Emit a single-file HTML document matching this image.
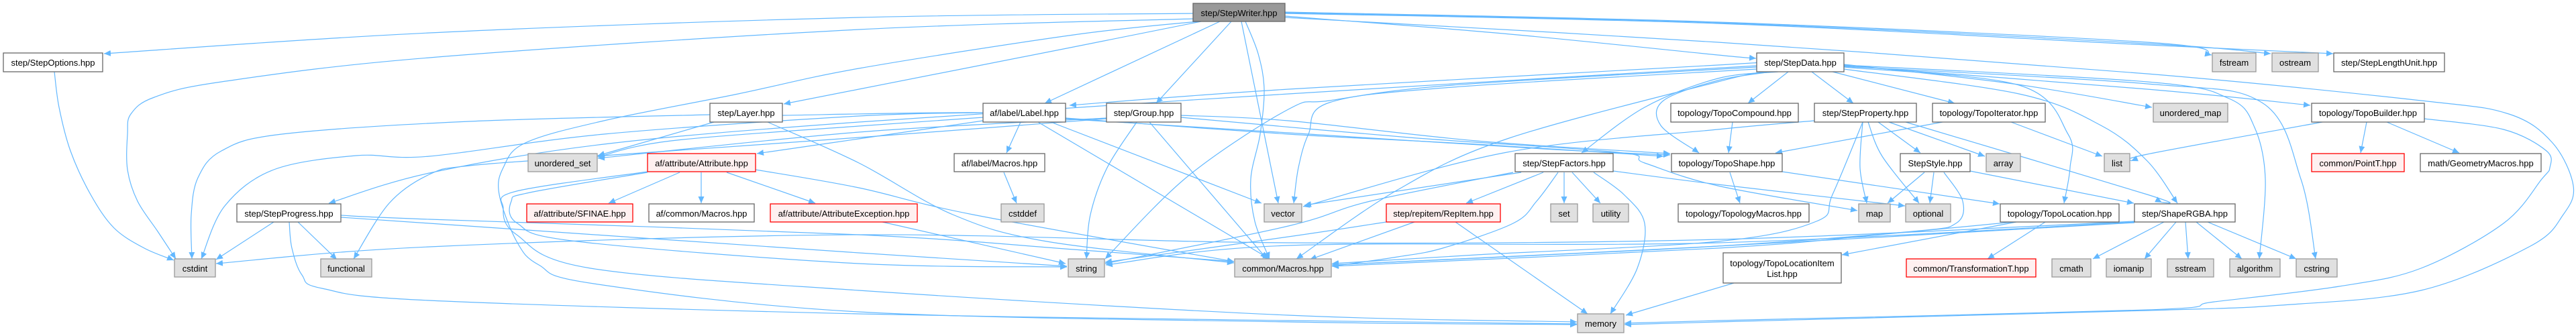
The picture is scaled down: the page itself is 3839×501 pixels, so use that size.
<!DOCTYPE html>
<html>
<head>
<meta charset="utf-8">
<style>
html,body{margin:0;padding:0;background:#fff;}
svg{display:block;}
text{font-family:"Liberation Sans",Arial,sans-serif;font-size:13px;fill:#000;text-anchor:middle;}
.e path{fill:none;stroke:#63b8ff;stroke-width:1.2;stroke-linejoin:round;}
.w{fill:#fff;stroke:#666;stroke-width:1.3;}
.g{fill:#e0e0e0;stroke:#999;stroke-width:1.3;}
.r{fill:#fff0f0;stroke:#ff0000;stroke-width:1.3;}
.d{fill:#999;stroke:#666;stroke-width:1.3;}
</style>
</head>
<body>
<svg width="3839" height="501" viewBox="0 0 3839 501" xmlns="http://www.w3.org/2000/svg">
<defs>
<marker id="a" markerWidth="11" markerHeight="9" refX="10" refY="4.5" orient="auto" markerUnits="userSpaceOnUse"><path d="M0,0 L10,4.5 L0,9 z" fill="#63b8ff"/></marker>
</defs>
<g class="e" id="edges">
<!-- StepWriter -->
<path marker-end="url(#a)" d="M1778,20 L1280,26 L640,49 L155,80"/>
<path marker-end="url(#a)" d="M1778,28 L1280,44 L640,86 L330,122 L230,145 L195,170 L190,200 L190,253 L205,300 L235,345 L262,386"/>
<path marker-end="url(#a)" d="M1790,32 L1600,70 L1280,133 L1168,155"/>
<path marker-end="url(#a)" d="M1785,32 L1600,52 L1280,102 L1100,140 L900,180 L783,213 L750,250 L744,290 L770,360 L803,395 L885,423 L1280,465 L1920,480 L2350,484"/>
<path marker-end="url(#a)" d="M1818,32 L1557,154"/>
<path marker-end="url(#a)" d="M1835,32 L1723,154"/>
<path marker-end="url(#a)" d="M1850,32 L1905,303"/>
<path marker-end="url(#a)" d="M1856,32 L1875,80 L1884,133 L1878,200 L1864,267 L1870,330 L1892,386"/>
<path marker-end="url(#a)" d="M1915,24 L2240,50 L2560,82 L2617,87"/>
<path marker-end="url(#a)" d="M1915,18 L2560,33 L3200,63 L3296,82"/>
<path marker-end="url(#a)" d="M1915,19 L2560,34 L3200,65 L3384,80"/>
<path marker-end="url(#a)" d="M1915,20 L2560,35 L3200,67 L3477,80"/>
<path marker-end="url(#a)" d="M1915,26 L2560,63 L3200,110 L3608,150 L3739,170 L3804,213 L3835,277 L3820,320 L3771,367 L3608,433 L3400,455 L3200,463 L2560,480 L2421,484"/>
<!-- StepOptions -->
<path marker-end="url(#a)" d="M81,107 L88,160 L105,225 L135,290 L170,340 L215,370 L259,388"/>
<!-- Layer -->
<path marker-end="url(#a)" d="M1058,171 L700,181 L420,200 L330,225 L295,265 L285,320 L286,386"/>
<path marker-end="url(#a)" d="M1064,182 L891,232"/>
<path marker-end="url(#a)" d="M1144,182 L1280,243 L1420,320 L1560,360 L1839,392"/>
<path marker-end="url(#a)" d="M1166,172 L1465,168 L1600,178 L1920,198 L2300,222 L2489,231"/>
<!-- Label -->
<path marker-end="url(#a)" d="M1521,182 L1500,228"/>
<path marker-end="url(#a)" d="M1566,182 L1880,303"/>
<path marker-end="url(#a)" d="M1547,182 L1892,386"/>
<path marker-end="url(#a)" d="M1465,180 L1280,207 L1128,229"/>
<path marker-end="url(#a)" d="M1465,175 L1280,188 L1000,210 L891,234"/>
<path marker-end="url(#a)" d="M1465,168 L1280,173 L900,200 L640,233 L531,232 L408,253 L335,307 L300,386"/>
<path marker-end="url(#a)" d="M1588,176 L1920,200 L2200,215 L2479,233"/>
<!-- Group -->
<path marker-end="url(#a)" d="M1694,182 L1650,250 L1625,320 L1619,386"/>
<path marker-end="url(#a)" d="M1713,182 L1888,386"/>
<path marker-end="url(#a)" d="M1760,172 L1920,180 L2200,210 L2489,229"/>
<path marker-end="url(#a)" d="M1649,177 L1280,205 L900,232 L700,247 L640,260 L580,303 L527,386"/>
<path marker-end="url(#a)" d="M1649,176 L1280,197 L891,236"/>
<path marker-end="url(#a)" d="M1760,175 L2100,205 L2410,227 L2451,243 L2560,277 L2768,314"/>
<!-- StepData -->
<path marker-end="url(#a)" d="M2618,93 L2560,97 L1920,133 L1594,157"/>
<path marker-end="url(#a)" d="M2618,100 L2165,127 L1981,150 L1920,163 L1770,263 L1647,386"/>
<path marker-end="url(#a)" d="M2618,103 L2165,130 L1981,153 L1950,200 L1935,250 L1928,303"/>
<path marker-end="url(#a)" d="M2650,107 L2560,117 L2451,160 L2357,228"/>
<path marker-end="url(#a)" d="M2640,107 L2560,120 L2479,150 L2475,187 L2532,228"/>
<path marker-end="url(#a)" d="M2630,107 L2560,122 L2246,207 L2083,283 L1932,386"/>
<path marker-end="url(#a)" d="M2665,107 L2605,154"/>
<path marker-end="url(#a)" d="M2700,107 L2762,154"/>
<path marker-end="url(#a)" d="M2731,107 L2913,154"/>
<path marker-end="url(#a)" d="M2748,100 L3009,127 L3082,200 L3085,250 L3076,303"/>
<path marker-end="url(#a)" d="M2748,103 L3009,140 L3131,187 L3200,240 L3245,303"/>
<path marker-end="url(#a)" d="M2748,96 L3000,125 L3207,160"/>
<path marker-end="url(#a)" d="M2748,98 L3200,133 L3443,157"/>
<path marker-end="url(#a)" d="M2748,97 L3200,122 L3322,147 L3360,190 L3376,267 L3367,386"/>
<path marker-end="url(#a)" d="M2748,99 L3200,125 L3371,153 L3429,267 L3451,386"/>
<path marker-end="url(#a)" d="M2618,98 L1920,140 L1280,182 L900,215 L640,258 L490,303"/>
<!-- StepProperty -->
<path marker-end="url(#a)" d="M2799,182 L2862,228"/>
<path marker-end="url(#a)" d="M2815,182 L2958,233"/>
<path marker-end="url(#a)" d="M2776,182 L2772,250 L2782,303"/>
<path marker-end="url(#a)" d="M2784,182 L2805,233 L2860,303"/>
<path marker-end="url(#a)" d="M2840,182 L3200,290 L3222,302"/>
<path marker-end="url(#a)" d="M2776,182 L2731,290 L2707,330 L2560,360 L2200,380 L1985,393"/>
<path marker-end="url(#a)" d="M2704,180 L2560,193 L2246,227 L1942,308"/>
<!-- TopoCompound / TopoIterator / TopoBuilder -->
<path marker-end="url(#a)" d="M2582,182 L2576,228"/>
<path marker-end="url(#a)" d="M2997,182 L3133,233"/>
<path marker-end="url(#a)" d="M2895,182 L2770,205 L2646,228"/>
<path marker-end="url(#a)" d="M3461,182 L3200,230 L3176,240"/>
<path marker-end="url(#a)" d="M3527,182 L3518,228"/>
<path marker-end="url(#a)" d="M3557,182 L3665,228"/>
<path marker-end="url(#a)" d="M3613,177 L3731,193 L3795,225 L3800,250 L3788,267 L3731,333 L3608,400 L3486,427 L3300,450 L3200,462 L2560,478 L2421,482"/>
<!-- StepFactors -->
<path marker-end="url(#a)" d="M2267,257 L1944,306"/>
<path marker-end="url(#a)" d="M2255,257 L2042,300 L1920,337 L1647,393"/>
<path marker-end="url(#a)" d="M2300,257 L2185,303"/>
<path marker-end="url(#a)" d="M2331,257 L2331,303"/>
<path marker-end="url(#a)" d="M2343,257 L2385,303"/>
<path marker-end="url(#a)" d="M2375,257 L2420,290 L2451,333 L2440,400 L2400,468"/>
<path marker-end="url(#a)" d="M2322,257 L2290,300 L2255,333 L2150,370 L2083,383 L1985,397"/>
<path marker-end="url(#a)" d="M2404,255 L2560,275 L2839,307"/>
<!-- StepStyle -->
<path marker-end="url(#a)" d="M2868,257 L2813,303"/>
<path marker-end="url(#a)" d="M2882,257 L2876,303"/>
<path marker-end="url(#a)" d="M2897,257 L2925,300 L2915,333 L2850,345 L2560,367 L2200,385 L1985,395"/>
<path marker-end="url(#a)" d="M2936,255 L3180,303"/>
<!-- TopoShape -->
<path marker-end="url(#a)" d="M2578,257 L2593,303"/>
<path marker-end="url(#a)" d="M2656,256 L2980,304"/>
<!-- Attribute -->
<path marker-end="url(#a)" d="M1013,257 L907,303"/>
<path marker-end="url(#a)" d="M1045,257 L1045,303"/>
<path marker-end="url(#a)" d="M1083,257 L1215,303"/>
<path marker-end="url(#a)" d="M965,257 L790,287 L762,300 L771,333 L860,360 L1280,393 L1590,398"/>
<path marker-end="url(#a)" d="M965,256 L770,285 L750,310 L770,350 L880,400 L1280,433 L1920,470 L2350,480"/>
<path marker-end="url(#a)" d="M1126,253 L1280,280 L1450,320 L1839,390"/>
<path marker-end="url(#a)" d="M1315,331 L1588,393"/>
<path marker-end="url(#a)" d="M1496,257 L1515,303"/>
<!-- StepProgress -->
<path marker-end="url(#a)" d="M408,331 L322,387"/>
<path marker-end="url(#a)" d="M444,331 L502,387"/>
<path marker-end="url(#a)" d="M508,324 L640,333 L1280,377 L1590,397"/>
<path marker-end="url(#a)" d="M508,321 L640,327 L1280,350 L1600,372 L1839,390"/>
<path marker-end="url(#a)" d="M431,331 L435,370 L450,410 L480,430 L640,448 L1280,468 L1920,478 L2350,483"/>
<!-- RepItem -->
<path marker-end="url(#a)" d="M2108,331 L1952,387"/>
<path marker-end="url(#a)" d="M2169,331 L2366,468"/>
<path marker-end="url(#a)" d="M2066,331 L1920,353 L1647,391"/>
<!-- TopoLocation -->
<path marker-end="url(#a)" d="M3005,331 L2745,380"/>
<path marker-end="url(#a)" d="M3048,331 L2962,386"/>
<path marker-end="url(#a)" d="M3000,331 L2800,350 L2560,370 L1985,397"/>
<!-- ShapeRGBA -->
<path marker-end="url(#a)" d="M3181,330 L2560,357 L1920,362 L1280,350 L640,368 L322,393"/>
<path marker-end="url(#a)" d="M3225,331 L3119,386"/>
<path marker-end="url(#a)" d="M3243,331 L3196,386"/>
<path marker-end="url(#a)" d="M3257,331 L3261,386"/>
<path marker-end="url(#a)" d="M3273,331 L3341,386"/>
<path marker-end="url(#a)" d="M3290,331 L3422,386"/>
<path marker-end="url(#a)" d="M3181,331 L2560,362 L1920,366 L1648,395"/>
<path marker-end="url(#a)" d="M3181,332 L2560,367 L1985,395"/>
<!-- TopoLocationItemList -->
<path marker-end="url(#a)" d="M2584,422 L2423,470"/>
</g>

<!-- Nodes -->
<g>
<rect class="d" x="1778" y="5" width="137" height="27"/><text x="1846.5" y="24">step/StepWriter.hpp</text>
<rect class="w" x="5" y="79" width="148" height="28"/><text x="79" y="98">step/StepOptions.hpp</text>
<rect class="w" x="2618" y="79" width="130" height="28"/><text x="2683" y="98">step/StepData.hpp</text>
<rect class="g" x="3297" y="79" width="65" height="28"/><text x="3329.5" y="98">fstream</text>
<rect class="g" x="3386" y="79" width="69" height="28"/><text x="3420.5" y="98">ostream</text>
<rect class="w" x="3478" y="79" width="165" height="28"/><text x="3560.5" y="98">step/StepLengthUnit.hpp</text>

<rect class="w" x="1058" y="154" width="108" height="28"/><text x="1112" y="173">step/Layer.hpp</text>
<rect class="w" x="1465" y="154" width="123" height="28"/><text x="1526.5" y="173">af/label/Label.hpp</text>
<rect class="w" x="1649" y="154" width="111" height="28"/><text x="1704.5" y="173">step/Group.hpp</text>
<rect class="w" x="2490" y="154" width="190" height="28"/><text x="2585" y="173">topology/TopoCompound.hpp</text>
<rect class="w" x="2704" y="154" width="152" height="28"/><text x="2780" y="173">step/StepProperty.hpp</text>
<rect class="w" x="2880" y="154" width="168" height="28"/><text x="2964" y="173">topology/TopoIterator.hpp</text>
<rect class="g" x="3209" y="154" width="111" height="28"/><text x="3264.5" y="173">unordered_map</text>
<rect class="w" x="3445" y="154" width="168" height="28"/><text x="3529" y="173">topology/TopoBuilder.hpp</text>

<rect class="g" x="787" y="229" width="103" height="27"/><text x="838.5" y="248">unordered_set</text>
<rect class="r" x="965" y="229" width="161" height="27"/><text x="1045.5" y="248">af/attribute/Attribute.hpp</text>
<rect class="w" x="1422" y="229" width="135" height="27"/><text x="1489.5" y="248">af/label/Macros.hpp</text>
<rect class="w" x="2258" y="229" width="146" height="27"/><text x="2331" y="248">step/StepFactors.hpp</text>
<rect class="w" x="2491" y="229" width="165" height="27"/><text x="2573.5" y="248">topology/TopoShape.hpp</text>
<rect class="w" x="2832" y="229" width="104" height="27"/><text x="2884" y="248">StepStyle.hpp</text>
<rect class="g" x="2960" y="229" width="51" height="27"/><text x="2985.5" y="248">array</text>
<rect class="g" x="3136" y="229" width="38" height="27"/><text x="3155" y="248">list</text>
<rect class="r" x="3445" y="229" width="138" height="27"/><text x="3514" y="248">common/PointT.hpp</text>
<rect class="w" x="3607" y="229" width="180" height="27"/><text x="3697" y="248">math/GeometryMacros.hpp</text>

<rect class="w" x="353" y="304" width="155" height="27"/><text x="430.5" y="323">step/StepProgress.hpp</text>
<rect class="r" x="785" y="304" width="158" height="27"/><text x="864" y="323">af/attribute/SFINAE.hpp</text>
<rect class="w" x="967" y="304" width="157" height="27"/><text x="1045.5" y="323">af/common/Macros.hpp</text>
<rect class="r" x="1148" y="304" width="219" height="27"/><text x="1257.5" y="323">af/attribute/AttributeException.hpp</text>
<rect class="g" x="1492" y="304" width="64" height="27"/><text x="1524" y="323">cstddef</text>
<rect class="g" x="1884" y="304" width="56" height="27"/><text x="1912" y="323">vector</text>
<rect class="r" x="2066" y="304" width="170" height="27"/><text x="2151" y="323">step/repitem/RepItem.hpp</text>
<rect class="g" x="2311" y="304" width="40" height="27"/><text x="2331" y="323">set</text>
<rect class="g" x="2374" y="304" width="53" height="27"/><text x="2400.5" y="323">utility</text>
<rect class="w" x="2501" y="304" width="195" height="27"/><text x="2598.5" y="323">topology/TopologyMacros.hpp</text>
<rect class="g" x="2770" y="304" width="47" height="27"/><text x="2793.5" y="323">map</text>
<rect class="g" x="2840" y="304" width="67" height="27"/><text x="2873.5" y="323">optional</text>
<rect class="w" x="2981" y="304" width="177" height="27"/><text x="3069.5" y="323">topology/TopoLocation.hpp</text>
<rect class="w" x="3181" y="304" width="150" height="27"/><text x="3256" y="323">step/ShapeRGBA.hpp</text>

<rect class="g" x="260" y="386" width="61" height="27"/><text x="290.5" y="405">cstdint</text>
<rect class="g" x="478" y="386" width="76" height="27"/><text x="516" y="405">functional</text>
<rect class="g" x="1592" y="386" width="54" height="27"/><text x="1619" y="405">string</text>
<rect class="g" x="1840" y="386" width="144" height="27"/><text x="1912" y="405">common/Macros.hpp</text>
<rect class="w" x="2568" y="377" width="176" height="45"/><text x="2656" y="397">topology/TopoLocationItem</text><text x="2656" y="413">List.hpp</text>
<rect class="r" x="2841" y="386" width="193" height="27"/><text x="2937.5" y="405">common/TransformationT.hpp</text>
<rect class="g" x="3058" y="386" width="58" height="27"/><text x="3087" y="405">cmath</text>
<rect class="g" x="3139" y="386" width="67" height="27"/><text x="3172.5" y="405">iomanip</text>
<rect class="g" x="3230" y="386" width="69" height="27"/><text x="3264.5" y="405">sstream</text>
<rect class="g" x="3323" y="386" width="75" height="27"/><text x="3360.5" y="405">algorithm</text>
<rect class="g" x="3422" y="386" width="61" height="27"/><text x="3452.5" y="405">cstring</text>
<rect class="g" x="2351" y="468" width="69" height="28"/><text x="2385.5" y="487">memory</text>
</g>
</svg>
<script>
(function(){
  var paths = document.querySelectorAll('#edges path');
  for (var k = 0; k < paths.length; k++) {
    var p = paths[k];
    var nums = p.getAttribute('d').match(/-?\d+(\.\d+)?/g);
    if (!nums || nums.length < 6) continue;
    var pts = [];
    for (var i = 0; i + 1 < nums.length; i += 2) pts.push([+nums[i], +nums[i+1]]);
    var n = pts.length;
    var d = 'M' + pts[0][0] + ',' + pts[0][1];
    for (var i = 0; i < n - 1; i++) {
      var p0 = pts[i > 0 ? i - 1 : i], p1 = pts[i], p2 = pts[i + 1], p3 = pts[i + 2 < n ? i + 2 : i + 1];
      var c1x = p1[0] + (p2[0] - p0[0]) / 6, c1y = p1[1] + (p2[1] - p0[1]) / 6;
      var c2x = p2[0] - (p3[0] - p1[0]) / 6, c2y = p2[1] - (p3[1] - p1[1]) / 6;
      d += ' C' + c1x.toFixed(1) + ',' + c1y.toFixed(1) + ' ' + c2x.toFixed(1) + ',' + c2y.toFixed(1) + ' ' + p2[0] + ',' + p2[1];
    }
    p.setAttribute('d', d);
  }
})();
</script>
</body>
</html>
